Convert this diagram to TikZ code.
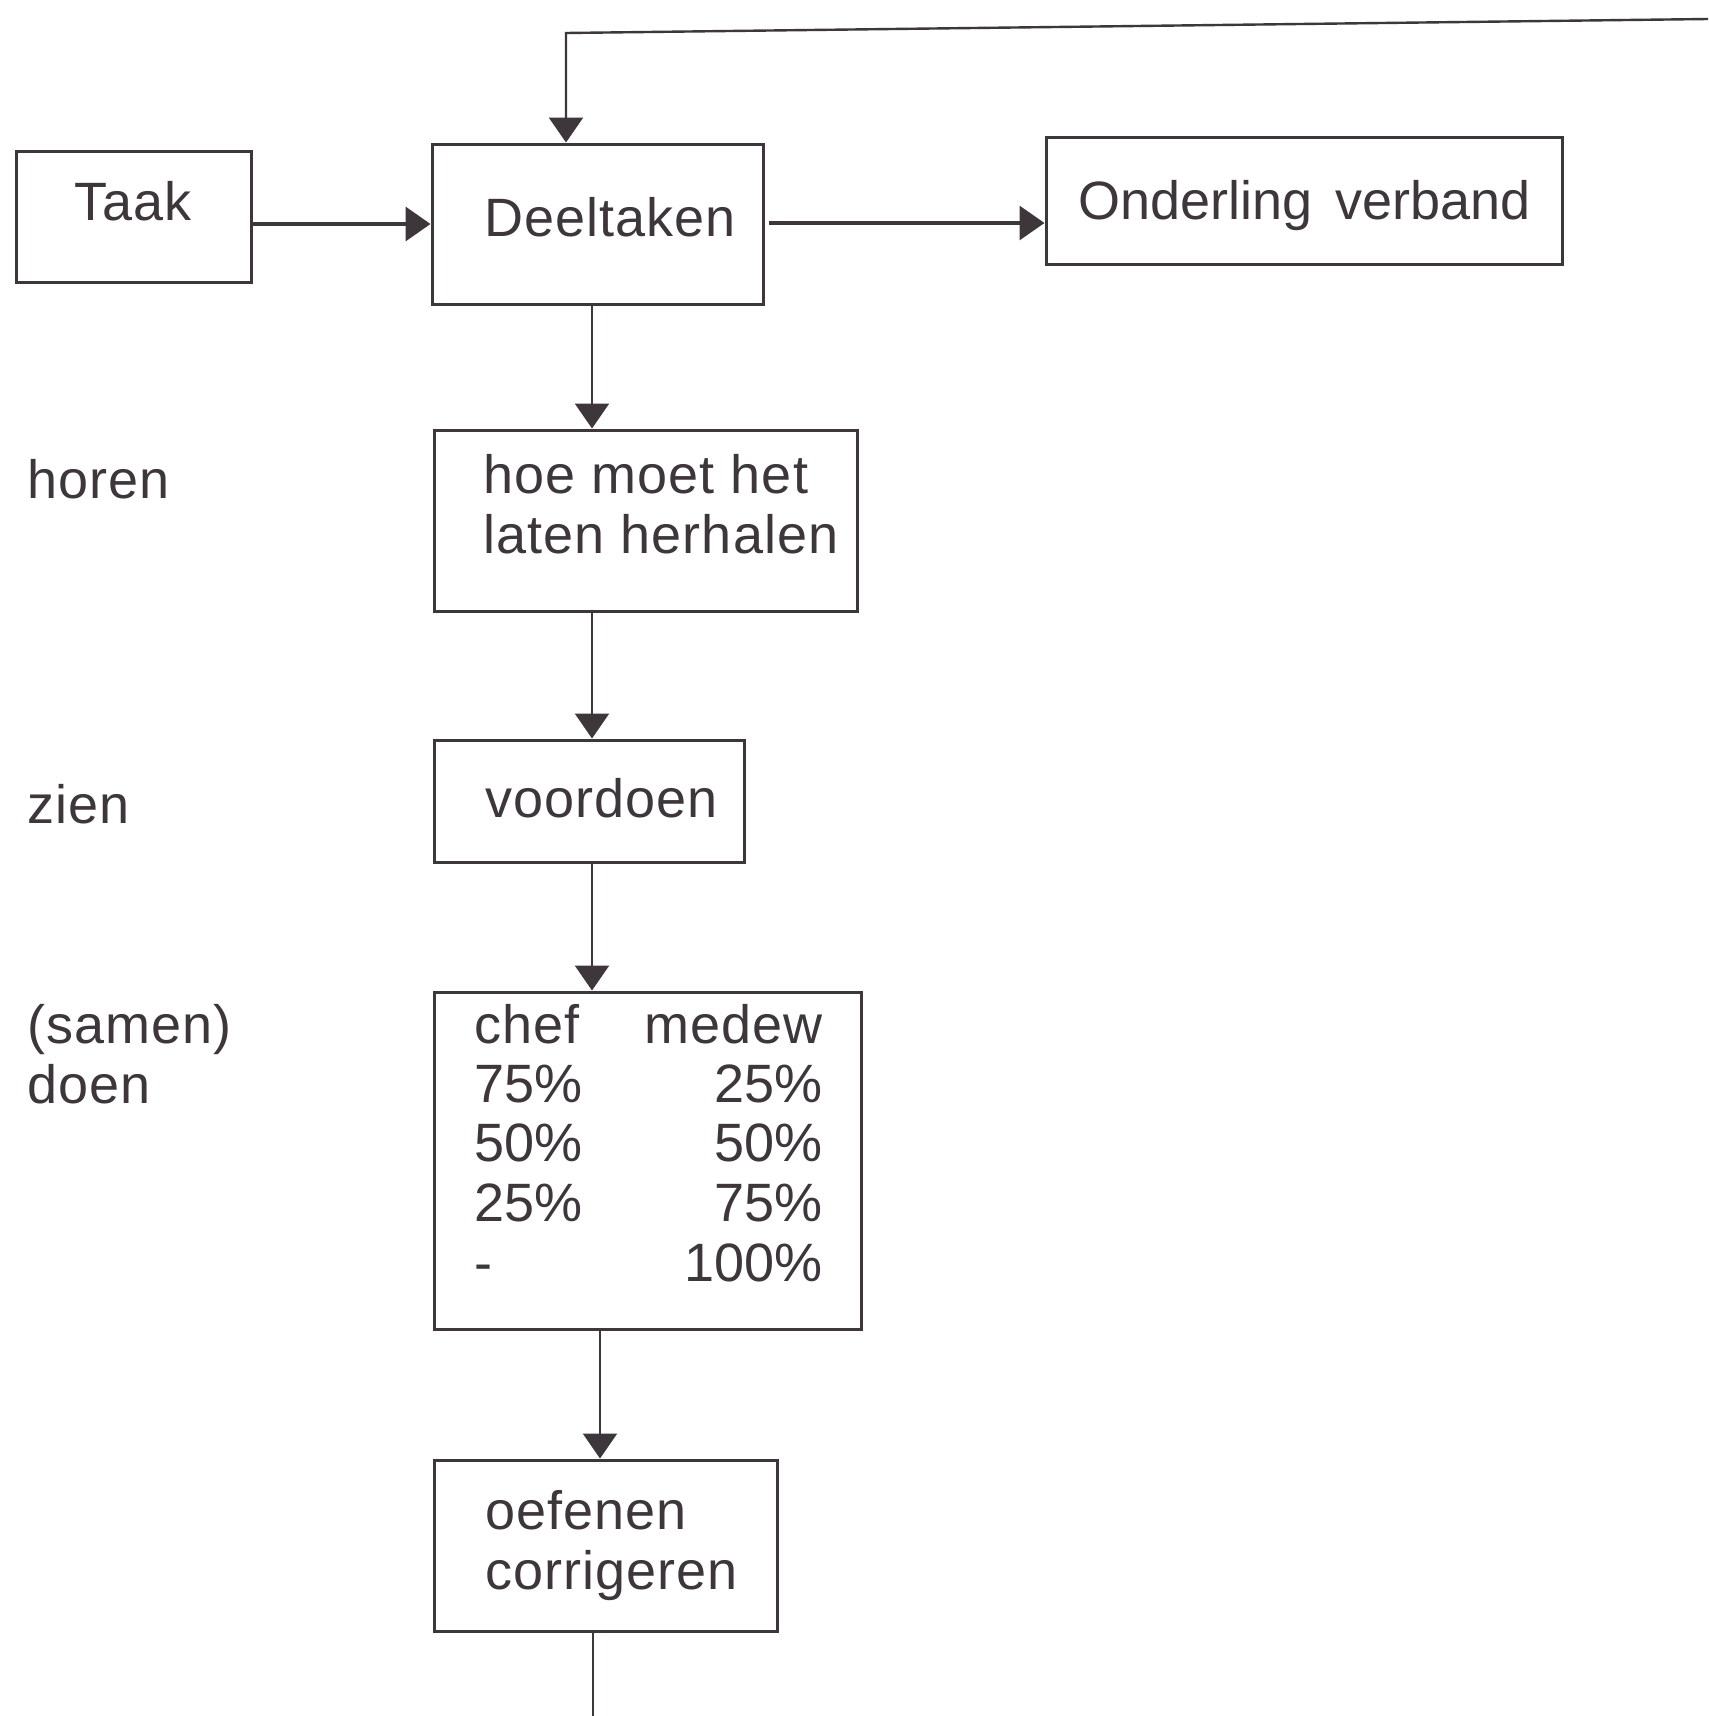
\documentclass[tikz,border=0pt]{standalone}
\usepackage{fontspec}
\setmainfont[LetterSpace=2]{Liberation Sans}
\newfontfamily\numfont{Liberation Sans}
\usetikzlibrary{arrows.meta,fit}
\definecolor{ink}{HTML}{3D363A}
\begin{document}
\begin{tikzpicture}[x=1pt,y=-1pt,
  box/.style={draw=ink,line width=3pt,inner sep=0pt},
  txt/.style={anchor=base west,inner sep=0pt,text=ink,font=\fontsize{54}{60}\selectfont},
  txtr/.style={txt,anchor=base east},
  num/.style={txt,font=\fontsize{54}{60}\numfont},
  numr/.style={num,anchor=base east},
  conn/.style={draw=ink,line width=2.4pt},
  arr/.style={conn,-{Triangle[width=34pt,length=25pt]}}]
\useasboundingbox (0,0) rectangle (1708,1716);
\fill[white] (0,0) rectangle (1708,1716);

% boxes
\node[box,fit={(16,151)(251,282)}] (taak) {};
\node[box,fit={(432,144)(763,304)}] (deel) {};
\node[box,fit={(1046,137)(1562,264)}] (onder) {};
\node[box,fit={(434,430)(857,611)}] (hoe) {};
\node[box,fit={(434,740)(744,862)}] (voor) {};
\node[box,fit={(434,992)(861,1329)}] (chef) {};
\node[box,fit={(434,1460)(777,1631)}] (oef) {};

% texts in boxes
\node[txt] (tTaak) at (74,220) {Taak};
\node[txt] (tDeel) at (484,236) {Deeltaken};
\node[num] (tOnd) at (1078,219) {Onderling\hspace{8pt} verband};
\node[txt] (tHoe1) at (483,493) {hoe moet het};
\node[txt] (tHoe2) at (483,553) {laten herhalen};
\node[txt] (tVoor) at (485,817) {voordoen};
\node[txt] (tChef) at (474,1043) {chef};
\node[txtr] (tMed) at (823,1043) {medew};
\node[num] (c1) at (474,1102) {75\%};
\node[numr] (m1) at (823,1102) {25\%};
\node[num] (c2) at (474,1161) {50\%};
\node[numr] (m2) at (823,1161) {50\%};
\node[num] (c3) at (474,1221) {25\%};
\node[numr] (m3) at (823,1221) {75\%};
\node[num] (c4) at (474,1281) {-};
\node[numr] (m4) at (823,1281) {100\%};
\node[txt] (tOef1) at (485,1529) {oefenen};
\node[txt] (tOef2) at (485,1589) {corrigeren};

% side labels
\node[txt] (lHoren) at (27,498) {horen};
\node[txt] (lZien) at (27,823) {zien};
\node[txt] (lSamen) at (27,1043) {(samen)};
\node[txt] (lDoen) at (27,1103) {doen};

% helper coordinates
\coordinate (topR) at (1708,19);
\coordinate (corner) at (566,33);
\coordinate (row1) at (0,224);
\coordinate (row2) at (769,223);
\coordinate (sp) at (592,0);
\coordinate (sp2) at (600,0);
\coordinate (bot) at (593,1716);

% connectors
\draw[arr] (topR) -- (corner) -- (corner |- deel.north);
\draw[arr,line width=3.6pt] (taak.east |- row1) -- (deel.west |- row1);
\draw[arr,line width=3.2pt] (row2) -- (onder.west |- row2);
\draw[arr] (deel.south -| sp) -- (hoe.north -| sp);
\draw[arr] (hoe.south -| sp) -- (voor.north -| sp);
\draw[arr] (voor.south -| sp) -- (chef.north -| sp);
\draw[arr] (chef.south -| sp2) -- (oef.north -| sp2);
\draw[conn] (oef.south -| bot) -- (bot);
\end{tikzpicture}
\end{document}
